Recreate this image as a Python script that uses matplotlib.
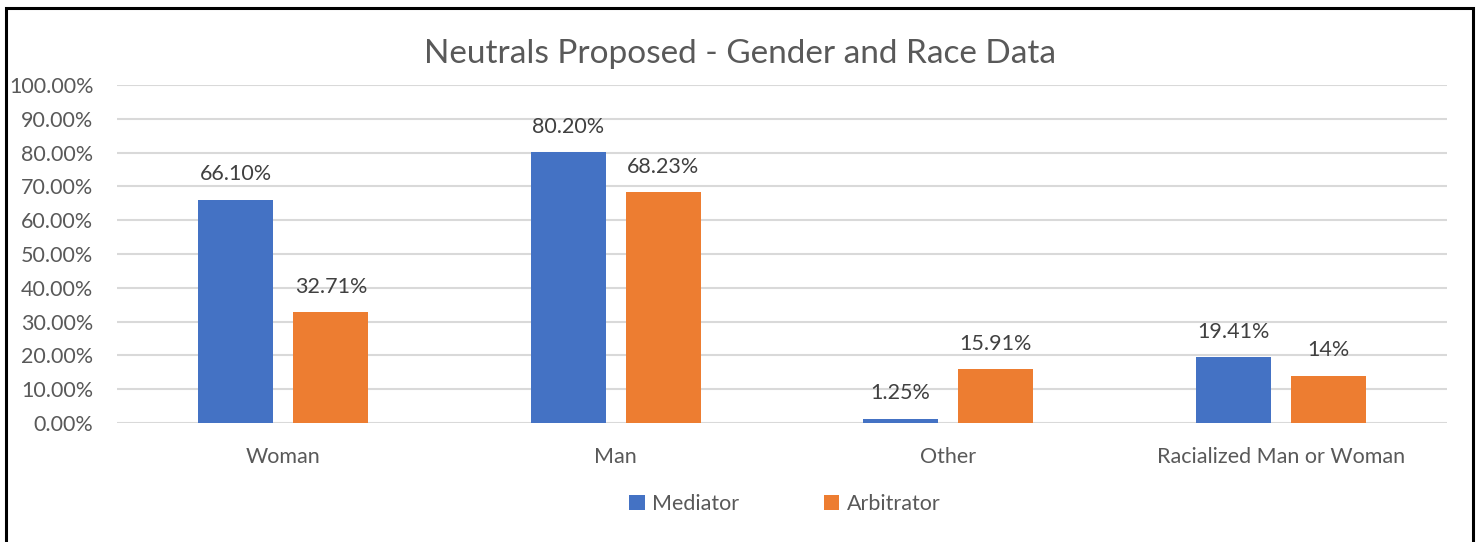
import numpy as np
import matplotlib.pyplot as plt
from matplotlib.patches import Rectangle
from matplotlib.ticker import FuncFormatter

categories = ['Woman', 'Man', 'Other', 'Racialized Man or Woman']
mediator = [66.10, 80.20, 1.25, 19.41]
arbitrator = [32.71, 68.23, 15.91, 14.0]
mediator_labels = ['66.10%', '80.20%', '1.25%', '19.41%']
arbitrator_labels = ['32.71%', '68.23%', '15.91%', '14%']

BLUE = '#4472C4'
ORANGE = '#ED7D31'
TEXT = '#595959'

plt.rcParams['font.family'] = ['Lato', 'DejaVu Sans']

fig = plt.figure(figsize=(14.81, 5.42), dpi=100)
ax = fig.add_axes([117 / 1481, 1 - 423 / 542, 1330 / 1481, 338 / 542])

x = np.arange(len(categories))
w = 0.226
off = 0.143
b1 = ax.bar(x - off, mediator, w, color=BLUE, label='Mediator', zorder=3)
b2 = ax.bar(x + off, arbitrator, w, color=ORANGE, label='Arbitrator', zorder=3)

for bars, labels in [(b1, mediator_labels), (b2, arbitrator_labels)]:
    for bar, lab in zip(bars, labels):
        ax.annotate(lab, (bar.get_x() + bar.get_width() / 2, bar.get_height()),
                    xytext=(0, 11), textcoords='offset points',
                    ha='center', va='bottom', fontsize=15.5, color='#404040')

ax.set_xlim(-0.5, len(categories) - 0.5)
ax.set_ylim(0, 100)
ax.set_yticks(np.arange(0, 101, 10))
ax.yaxis.set_major_formatter(FuncFormatter(lambda v, p: f'{v:.2f}%'))
ax.set_xticks(x)
ax.set_xticklabels(categories)
ax.tick_params(axis='both', length=0, labelsize=15.5, labelcolor=TEXT)
ax.tick_params(axis='x', pad=17)
ax.tick_params(axis='y', pad=17)
ax.grid(axis='y', color='#D9D9D9', linewidth=1.5, zorder=0)
for s in ax.spines.values():
    s.set_visible(False)

fig.text(740 / 1481, 1 - 54 / 542, 'Neutrals Proposed - Gender and Race Data',
         ha='center', va='center', fontsize=24, color=TEXT)

leg = fig.legend(handles=[b1, b2], loc='center', bbox_to_anchor=(785 / 1481, 1 - 504 / 542),
                 ncol=2, frameon=False, fontsize=15.5, handlelength=0.7, handleheight=0.7,
                 handletextpad=0.35, columnspacing=3.95)
for t in leg.get_texts():
    t.set_color(TEXT)

fig.patches.append(Rectangle((6 / 1481, -0.05), 1467 / 1481, 1.05 - 8 / 542,
                             transform=fig.transFigure, fill=False,
                             edgecolor='black', linewidth=2.2))

fig.savefig('out.png', dpi=100)
